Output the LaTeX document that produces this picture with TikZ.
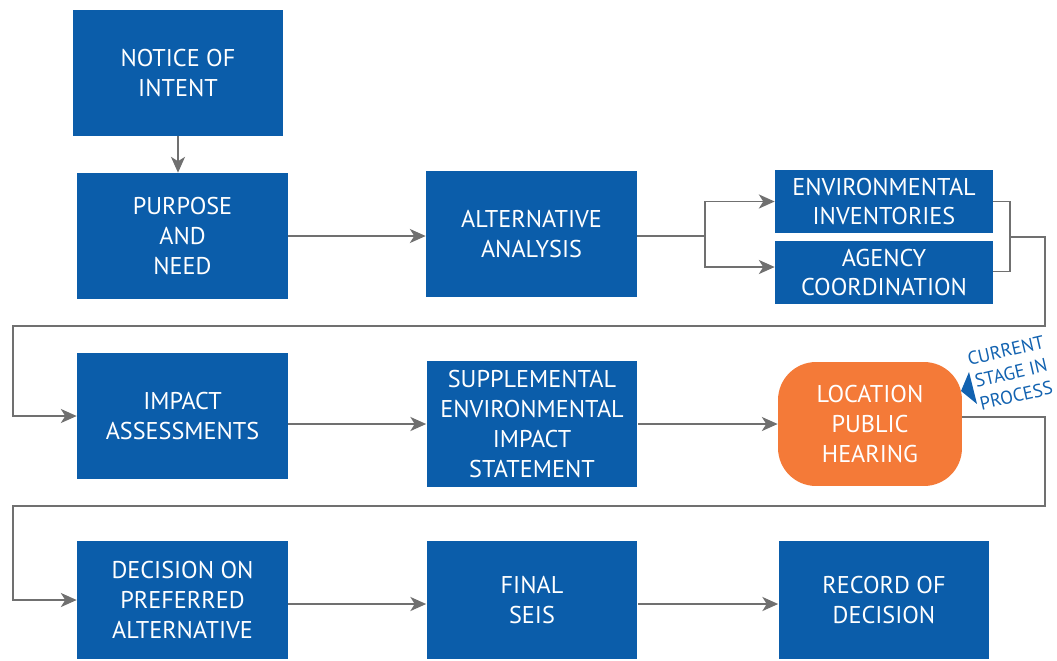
\documentclass[tikz,border=0pt]{standalone}
\usepackage{fontspec}
\setmainfont{PT Sans}
\usetikzlibrary{arrows.meta}
\definecolor{stepblue}{HTML}{0B5DAA}
\definecolor{hearorange}{HTML}{F47A38}
\definecolor{flowgray}{HTML}{707070}
\definecolor{stageblue}{HTML}{1262B0}
\begin{document}
\begin{tikzpicture}[x=0.02cm, y=-0.02cm,
    stepbox/.style={fill=stepblue, text=white, inner sep=0pt, align=center,
        minimum width=4.22cm, minimum height=2.52cm,
        font=\fontsize{13.8}{17}\selectfont},
    halfbox/.style={stepbox, minimum width=4.36cm, minimum height=1.26cm},
    flow/.style={flowgray, line width=1.1pt},
    flowarrow/.style={flow, -{Stealth[length=9pt, width=8pt, inset=2.5pt]}}]
    \useasboundingbox (0,0) rectangle (1057,660);
    \node[stepbox] (notice) at (178,73) {NOTICE OF\\INTENT};
    \node[stepbox] (purpose) at (182.5,236) {PURPOSE\\AND\\NEED};
    \node[stepbox] (alt) at (531.5,234) {ALTERNATIVE\\ANALYSIS};
    \node[halfbox] (env) at (884,201.5) {ENVIRONMENTAL\\INVENTORIES};
    \node[halfbox] (agency) at (884,272.5) {AGENCY\\COORDINATION};
    \node[stepbox] (impact) at (182.5,416) {IMPACT\\ASSESSMENTS};
    \node[stepbox] (supp) at (532,424) {SUPPLEMENTAL\\ENVIRONMENTAL\\IMPACT\\STATEMENT};
    \node[stepbox, fill=hearorange, minimum width=3.68cm, minimum height=2.48cm,
        rounded corners=0.76cm] (hearing) at (870,424) {LOCATION\\PUBLIC\\HEARING};
    \node[stepbox, minimum height=2.36cm] (decision) at (182.5,600) {DECISION ON\\PREFERRED\\ALTERNATIVE};
    \node[stepbox, minimum height=2.36cm] (final) at (532,600) {FINAL\\SEIS};
    \node[stepbox, minimum height=2.36cm] (record) at (884,600) {RECORD OF\\DECISION};
    \node[rotate=13, text=stageblue, align=center, inner sep=0pt,
        font=\fontsize{10.6}{13.2}\selectfont] (stage) at (1011,373) {CURRENT\\STAGE IN\\PROCESS};
    \fill[stageblue] (961,391) -- (969,372) -- (977,404) -- cycle;

    \coordinate (split) at (705,236);
    \coordinate (join) at (1010,237);
    \coordinate (loopa) at (1045,326);
    \coordinate (loopb) at (1045,506);

    \draw[flowarrow] (notice) -- (notice |- purpose.north);
    \draw[flowarrow] (purpose.east) -- (alt.west |- purpose.east);
    \draw[flow] (alt.east |- split) -- (split);
    \draw[flowarrow] (split) |- (env.west);
    \draw[flowarrow] (split) |- ([yshift=0.11cm]agency.west);
    \draw[flow] (env.east) -| (join) |- ([yshift=0.02cm]agency.east);
    \draw[flowarrow] (join) -| (loopa) -- (13,326) |- (impact.west);
    \draw[flowarrow] (impact.east |- supp.west) -- (supp.west);
    \draw[flowarrow] (supp) -- (hearing);
    \draw[flowarrow] ([yshift=0.14cm]hearing.east) -| (loopb) -- (13,506) |- (decision.west);
    \draw[flowarrow] ([yshift=-0.08cm]decision.east) -- ([yshift=-0.08cm]final.west);
    \draw[flowarrow] ([yshift=-0.08cm]final.east) -- ([yshift=-0.08cm]record.west);
\end{tikzpicture}
\end{document}
